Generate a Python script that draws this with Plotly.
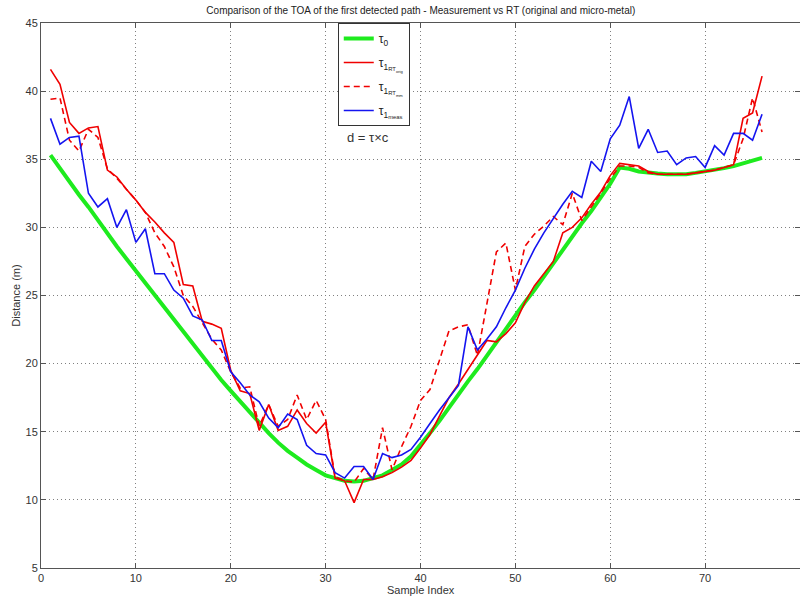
import plotly.graph_objects as go

# Sample index of each detected path
sample_index = list(range(1, 77))

# tau_0 : geometric (direct) distance
tau0 = [35.3, 34.3, 33.4, 32.4, 31.5, 30.5, 29.6, 28.6, 27.7, 26.8,
        25.9, 25.0, 24.1, 23.2, 22.3, 21.4, 20.5, 19.7, 18.8, 18.0,
        17.2, 16.4, 15.6, 14.9, 14.2, 13.6, 13.1, 12.6, 12.2, 11.8,
        11.6, 11.4, 11.35, 11.4, 11.6, 11.8, 12.2, 12.6, 13.2, 14.0,
        14.9, 15.8, 16.8, 17.7, 18.7, 19.6, 20.6, 21.6, 22.5, 23.5,
        24.5, 25.4, 26.4, 27.4, 28.3, 29.3, 30.3, 31.2, 32.2, 33.2,
        34.4, 34.3, 34.1, 34.0, 33.95, 33.9, 33.9, 33.9, 34.0, 34.1,
        34.2, 34.35, 34.5, 34.7, 34.9, 35.1]

# tau_1 from ray tracing, original geometry
tau1_rt_orig = [41.6, 40.5, 37.7, 36.9, 37.3, 37.4, 34.2, 33.7, 32.8, 32.0,
                31.1, 30.4, 29.6, 28.9, 25.8, 25.7, 23.1, 22.9, 22.6, 19.5,
                18.0, 17.8, 15.1, 17.0, 15.1, 15.4, 16.6, 15.6, 14.9, 15.7,
                11.6, 11.4, 9.8, 11.5, 11.5, 11.7, 12.0, 12.4, 12.9, 13.8,
                14.8, 16.2, 17.5, 18.5, 19.6, 20.7, 21.7, 21.6, 22.2, 23.0,
                24.5, 25.7, 26.6, 27.5, 29.6, 30.0, 30.7, 31.7, 32.6, 33.8,
                34.7, 34.6, 34.5, 34.1, 33.9, 33.9, 33.9, 33.9, 34.0, 34.1,
                34.2, 34.4, 34.6, 38.0, 38.4, 41.1]

# tau_1 from ray tracing, micro-metal geometry
tau1_rt_mm = [39.4, 39.5, 36.4, 35.6, 37.2, 36.6, 34.3, 33.6, 32.8, 32.0,
              31.1, 29.6, 28.6, 27.1, 25.0, 24.2, 23.0, 21.8, 21.0, 19.4,
              18.2, 18.3, 15.4, 17.0, 15.4, 15.9, 17.7, 15.9, 17.3, 15.9,
              11.7, 11.4, 11.3, 12.3, 11.5, 15.3, 12.2, 13.9, 15.4, 17.3,
              18.1, 20.3, 22.4, 22.7, 22.85, 20.6, 24.4, 28.2, 28.85, 25.4,
              28.6, 29.5, 30.1, 30.8, 30.2, 32.5, 30.5, 31.5, 32.5, 33.6,
              34.5, 34.5, 34.4, 34.0, 33.9, 33.9, 33.9, 33.9, 34.0, 34.1,
              34.2, 34.4, 34.6, 36.5, 39.5, 37.0]

# tau_1 measured
tau1_meas = [38.0, 36.1, 36.6, 36.7, 32.5, 31.5, 32.1, 30.0, 31.3, 28.9,
             29.9, 26.6, 26.6, 25.4, 24.8, 23.5, 23.2, 21.7, 21.7, 19.4,
             18.6, 17.7, 17.2, 16.0, 15.3, 16.3, 15.9, 14.0, 13.4, 13.3,
             12.0, 11.6, 12.45, 12.45, 11.5, 13.4, 13.1, 13.3, 13.7, 14.6,
             15.6, 16.6, 17.5, 18.4, 22.7, 21.0, 21.8, 22.7, 24.1, 25.4,
             27.0, 28.4, 29.6, 30.7, 31.7, 32.65, 32.2, 34.85, 34.1, 36.5,
             37.5, 39.6, 35.8, 37.2, 35.5, 35.6, 34.6, 35.1, 35.2, 34.4,
             36.0, 35.3, 36.9, 36.9, 36.4, 38.3]

x_ticks = [0, 10, 20, 30, 40, 50, 60, 70, 80]
y_ticks = [5, 10, 15, 20, 25, 30, 35, 40, 45]

FONT = "Liberation Sans, Arial, sans-serif"

series = [
    ("τ<sub>0</sub>", tau0, dict(color="rgb(30,235,30)", width=4)),
    ("τ<sub>1<sub>RT<sub>orig</sub></sub></sub>", tau1_rt_orig,
     dict(color="rgb(240,0,0)", width=1.6)),
    ("τ<sub>1<sub>RT<sub>mm</sub></sub></sub>", tau1_rt_mm,
     dict(color="rgb(240,0,0)", width=1.6, dash="6px,4px")),
    ("τ<sub>1<sub>meas</sub></sub>", tau1_meas,
     dict(color="rgb(20,20,240)", width=1.6)),
]

fig = go.Figure()
for i, (name, values, line) in enumerate(series):
    fig.add_trace(go.Scatter(x=sample_index, y=values, mode="lines",
                             name=name, legendgroup=f"g{i}", line=line))

axis_common = dict(
    showgrid=True, gridcolor="#808080", griddash="1px,3px", gridwidth=1,
    showline=True, linecolor="#555555", linewidth=1, mirror="ticks",
    ticks="inside", ticklen=5, tickcolor="#555555",
    tickfont=dict(family=FONT, size=11, color="#333333"),
    zeroline=False,
)

fig.update_xaxes(range=[0, 80], tickvals=x_ticks, **axis_common)
fig.update_yaxes(range=[5, 45], tickvals=y_ticks, **axis_common)

fig.update_layout(
    width=800, height=597,
    margin=dict(l=41, r=0, t=23, b=29),
    paper_bgcolor="white", plot_bgcolor="white",
    font=dict(family=FONT, size=11, color="#222222"),
    title=dict(text="Comparison of the TOA of the first detected path - Measurement vs RT (original and micro-metal)",
               x=0.526, xanchor="center", y=0.983, yanchor="middle",
               font=dict(family=FONT, size=10, color="#222222")),
    legend=dict(x=0.391, y=1.0, xanchor="left", yanchor="top",
                bgcolor="white", bordercolor="#333333", borderwidth=1,
                font=dict(family=FONT, size=12, color="#222222"),
                tracegroupgap=5, itemwidth=30),
    showlegend=True,
    annotations=[
        dict(text="d = τ×c", x=0.431, y=0.808, xref="paper", yref="paper",
             showarrow=False, font=dict(family=FONT, size=13, color="#333333")),
        dict(text="Sample Index", x=0.5, y=-0.0404, xref="paper", yref="paper",
             yanchor="middle", showarrow=False,
             font=dict(family=FONT, size=11, color="#333333")),
        dict(text="Distance (m)", x=-0.034, y=0.5, xref="paper", yref="paper",
             textangle=-90, showarrow=False, xanchor="center",
             font=dict(family=FONT, size=11, color="#333333")),
    ],
)

fig.write_html("out.html")
